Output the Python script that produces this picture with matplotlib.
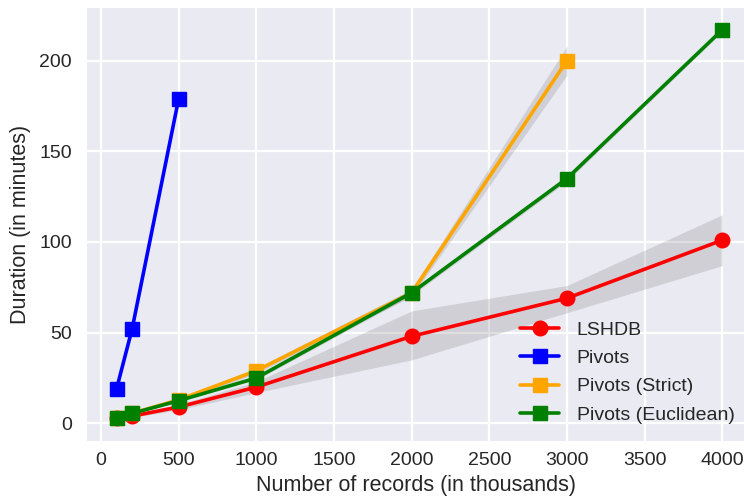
import numpy as np
import matplotlib
matplotlib.use("Agg")
import matplotlib.pyplot as plt

plt.style.use("seaborn-v0_8-darkgrid")
plt.rcParams['font.family'] = ['Liberation Sans', 'DejaVu Sans']

# records in thousands, durations in minutes
lshdb_x = [100, 200, 500, 1000, 2000, 3000, 4000]
lshdb_y = [2.7, 4, 9, 20, 48, 69, 101]
lshdb_lo = [2.0, 3.2, 7.5, 17, 35, 61, 87]
lshdb_hi = [3.4, 4.8, 10.5, 23, 62, 76, 115]

pivots_x = [100, 200, 500]
pivots_y = [19, 52, 179]

strict_x = [100, 200, 500, 1000, 2000, 3000]
strict_y = [3, 5.5, 13, 29, 72, 200]
strict_lo = [2.6, 5.0, 12, 27.5, 70, 192]
strict_hi = [3.4, 6.0, 14, 30.5, 74, 208]

eucl_x = [100, 200, 500, 1000, 2000, 3000, 4000]
eucl_y = [3, 5.5, 12.5, 25, 72, 135, 217]
eucl_lo = [2.7, 5.1, 12, 24, 70.5, 133.5, 216]
eucl_hi = [3.3, 5.9, 13, 26, 73.5, 136.5, 218]

fig = plt.figure(figsize=(7.44, 5.03), dpi=100)
ax = fig.add_axes([0.117, 0.123, 0.883, 0.861])

ax.fill_between(lshdb_x, lshdb_lo, lshdb_hi, color="grey", alpha=0.25, lw=0)
ax.fill_between(strict_x, strict_lo, strict_hi, color="grey", alpha=0.25, lw=0)
ax.fill_between(eucl_x, eucl_lo, eucl_hi, color="grey", alpha=0.25, lw=0)

ax.plot(lshdb_x, lshdb_y, color="red", marker="o", lw=2.6, ms=10.5, label="LSHDB")
ax.plot(pivots_x, pivots_y, color="blue", marker="s", lw=2.6, ms=10.5, label="Pivots")
ax.plot(strict_x, strict_y, color="orange", marker="s", lw=2.6, ms=10.5, label="Pivots (Strict)")
ax.plot(eucl_x, eucl_y, color="green", marker="s", lw=2.6, ms=10.5, label="Pivots (Euclidean)")

ax.set_xlim(-90, 4140)
ax.set_ylim(-9.8, 229)
ax.set_xticks(range(0, 4001, 500))
ax.set_yticks(range(0, 201, 50))
ax.grid(True, color="white", lw=1.6)
ax.tick_params(axis="x", labelsize=14, colors="#262626", pad=8)
ax.tick_params(axis="y", labelsize=14, colors="#262626", pad=11)
ax.set_xlabel("Number of records (in thousands)", fontsize=15.5, color="#262626", labelpad=4)
ax.set_ylabel("Duration (in minutes)", fontsize=15.5, color="#262626", labelpad=6)

ax.legend(loc="lower right", fontsize=14, frameon=False, handlelength=2.0,
          labelspacing=0.55, handletextpad=0.9, bbox_to_anchor=(1.012, 0.0))

fig.savefig("out.png", dpi=100)
